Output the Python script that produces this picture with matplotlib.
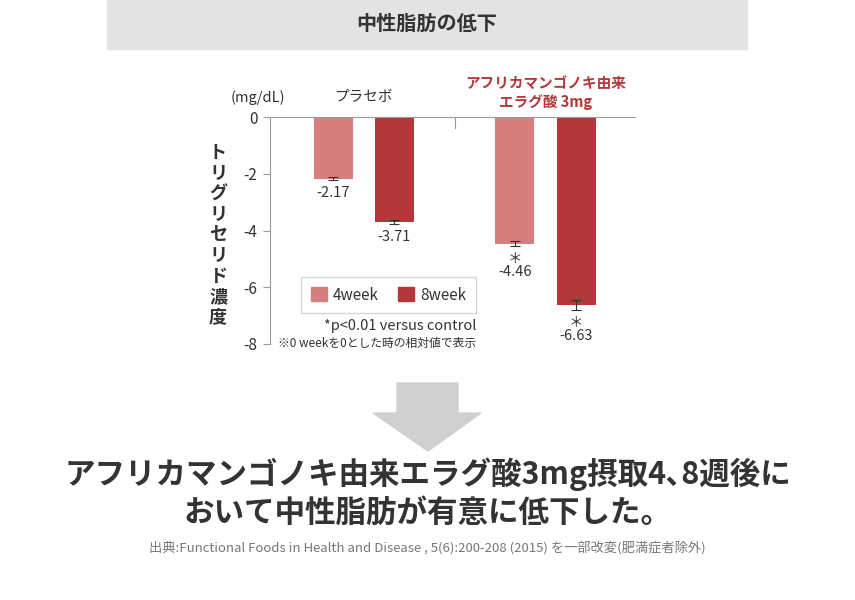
import matplotlib
matplotlib.use('Agg')
import matplotlib.pyplot as plt
from matplotlib.patches import Rectangle, Polygon, Patch
import numpy as np

plt.rcParams['font.family'] = ['Noto Sans CJK JP', 'DejaVu Sans']

# データ
groups = ['プラセボ', 'アフリカマンゴノキ由来\nエラグ酸 3mg']
series = ['4week', '8week']
values_4w = [-2.17, -4.46]
values_8w = [-3.71, -6.63]
err_4w = [0.05, 0.10]
err_8w = [0.07, 0.17]
signif_4w = [False, True]
signif_8w = [False, True]
yticks = [0, -2, -4, -6, -8]

LIGHT = '#d67f7e'
DARK = '#b4383a'
TEXT = '#333333'
W, H = 855, 600

fig = plt.figure(figsize=(W / 100, H / 100), dpi=100)


def fx(px):
    return px / W


def fy(py):
    return 1 - py / H


# 見出しの帯
fig.patches.append(Rectangle((fx(107), fy(49)), fx(640), 49 / H,
                             transform=fig.transFigure, color='#e3e3e3', zorder=0))
fig.text(fx(427), fy(23), '中性脂肪の低下', ha='center', va='center',
         fontsize=14.5, fontweight='bold', color=TEXT)

# グラフ本体
ax = fig.add_axes([fx(270), fy(344), fx(365), (344 - 117) / H])
x = np.arange(len(groups))
off = 0.169
bw = 0.215

ax.bar(x - off, values_4w, bw, color=LIGHT, zorder=2)
ax.bar(x + off, values_8w, bw, color=DARK, zorder=2)
ax.errorbar(x - off, values_4w, yerr=err_4w, fmt='none', ecolor=TEXT,
            elinewidth=0.8, capsize=3.5, capthick=0.8, zorder=3)
ax.errorbar(x + off, values_8w, yerr=err_8w, fmt='none', ecolor=TEXT,
            elinewidth=0.8, capsize=3.5, capthick=0.8, zorder=3)

# 数値ラベル（有意差は ＊ を上に）
for xs, vals, errs, sig in [(x - off, values_4w, err_4w, signif_4w),
                            (x + off, values_8w, err_8w, signif_8w)]:
    for xi, v, e, s in zip(xs, vals, errs, sig):
        label = '%.2f' % v
        if s:
            label = '＊\n' + label
        ax.annotate(label, (xi, v - e), xytext=(0, -4), textcoords='offset points',
                    ha='center', va='top', fontsize=10.5, color=TEXT,
                    linespacing=0.92)

ax.set_xlim(-0.516, 1.4925)
ax.set_ylim(-8, 0)
ax.set_yticks(yticks)
ax.set_yticklabels([str(t) for t in yticks])
ax.set_xticks([])
ax.tick_params(axis='y', length=5, width=0.8, color='#999999', labelcolor=TEXT,
               labelsize=11, pad=4)
for s in ['right', 'bottom']:
    ax.spines[s].set_visible(False)
for s in ['left', 'top']:
    ax.spines[s].set_color('#999999')
    ax.spines[s].set_linewidth(0.8)
# グループの区切り
ax.plot([0.5, 0.5], [0, -0.4], color='#999999', lw=0.8, clip_on=False)

# グループ名
ax.text(x[0], 0.45, groups[0], ha='center', va='bottom', fontsize=10.5, color=TEXT)
ax.text(x[1], 0.25, groups[1], ha='center', va='bottom', fontsize=10.5,
        fontweight='bold', color=DARK, linespacing=1.15)
fig.text(fx(258), fy(98), '(mg/dL)', ha='center', va='center', fontsize=10.5, color=TEXT)

# 縦書きの軸ラベル
fig.text(fx(218), fy(235), '\n'.join('トリグリセリド濃度'), ha='center', va='center',
         fontsize=13, fontweight='bold', color=TEXT, linespacing=1.1)

# 凡例
handles = [Patch(color=LIGHT), Patch(color=DARK)]
leg = fig.legend(handles, series, ncol=2, loc='center',
                 bbox_to_anchor=(fx(388.5), fy(295)), frameon=True, fancybox=False,
                 edgecolor='#cccccc', fontsize=11, handlelength=1.0, handleheight=1.0,
                 handletextpad=0.4, columnspacing=1.3, borderpad=0.65, borderaxespad=0)
leg.get_frame().set_linewidth(1.0)
for t in leg.get_texts():
    t.set_color(TEXT)

fig.text(fx(476), fy(326), '*p<0.01 versus control', ha='right', va='center',
         fontsize=10.5, color=TEXT)
fig.text(fx(476), fy(343), '※0 weekを0とした時の相対値で表示', ha='right', va='center',
         fontsize=8.5, color=TEXT)

# 矢印
arrow = [(397, 383), (458, 383), (458, 413), (481, 413), (428, 451),
         (373, 413), (397, 413)]
fig.patches.append(Polygon([(fx(a), fy(b)) for a, b in arrow], closed=True,
                           transform=fig.transFigure, color='#d0d0d0', zorder=0))

# まとめ
fig.text(0.5, fy(474), 'アフリカマンゴノキ由来エラグ酸3mg摂取4､8週後に', ha='center',
         va='center', fontsize=22, fontweight='bold', color=TEXT)
fig.text(0.5, fy(513), 'おいて中性脂肪が有意に低下した。', ha='center', va='center',
         fontsize=22, fontweight='bold', color=TEXT)
fig.text(0.5, fy(548), '出典:Functional Foods in Health and Disease , 5(6):200-208 (2015) を一部改変(肥満症者除外)',
         ha='center', va='center', fontsize=9.5, color='#777777')

fig.savefig('out.png', dpi=100)
